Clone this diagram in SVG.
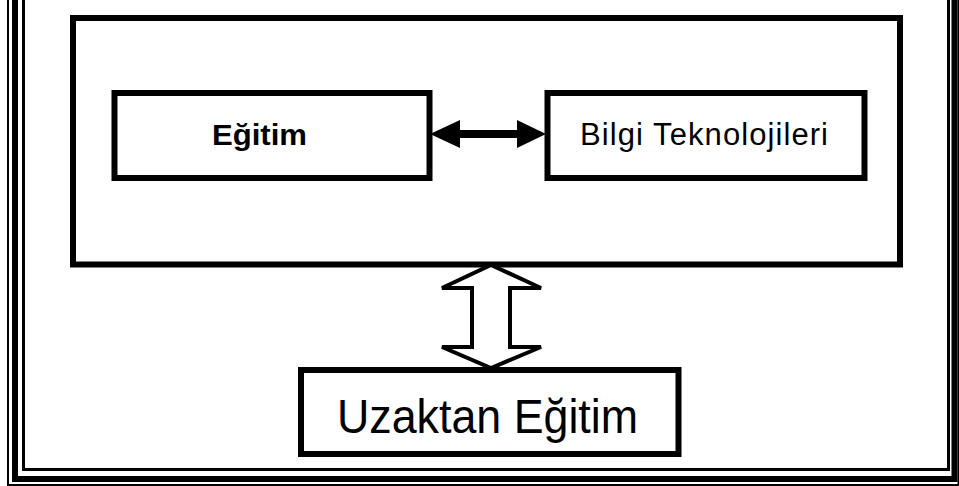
<svg xmlns="http://www.w3.org/2000/svg" width="959" height="486" viewBox="0 0 959 486">
<style>
.box{fill:#fff;stroke:#000;stroke-width:6}
.t{font-family:"Liberation Sans",Arial,sans-serif;fill:#000}
</style>
<rect width="959" height="486" fill="#fff"/>
<g id="frame" fill="none" stroke="#000">
<path d="M8,-5 V485 H958.5 V-5" stroke-width="2"/>
<path d="M15,-5 V479 H954.5 V-5" stroke-width="6"/>
<path d="M23.5,-5 V469.5 H948.5 V-5" stroke-width="3"/>
</g>
<g id="outer-box"><rect class="box" x="73" y="18" width="827" height="246.5"/></g>
<g id="egitim">
<rect class="box" x="114.5" y="93" width="315" height="85"/>
<text class="t" x="212" y="145" font-size="30" font-weight="bold" textLength="95" lengthAdjust="spacingAndGlyphs">Eğitim</text>
</g>
<g id="bilgi">
<rect class="box" x="547.5" y="93" width="317" height="85"/>
<text class="t" x="580" y="145" font-size="31" textLength="248" lengthAdjust="spacing">Bilgi Teknolojileri</text>
</g>
<g id="uzaktan">
<rect class="box" x="301" y="370" width="377.5" height="84"/>
<text class="t" x="337" y="433" font-size="48" textLength="301" lengthAdjust="spacingAndGlyphs">Uzaktan Eğitim</text>
</g>
<g id="connectors">
<polygon points="430,134 460,120 460,130 517,130 517,120 546,134 517,148 517,138 460,138 460,148" fill="#000"/>
<polygon points="491,265 541,288 510,288 510,347 541,347 491,368 442,347 472,347 472,288 442,288" fill="#fff" stroke="#000" stroke-width="4" stroke-linejoin="miter"/>
</g>
</svg>
